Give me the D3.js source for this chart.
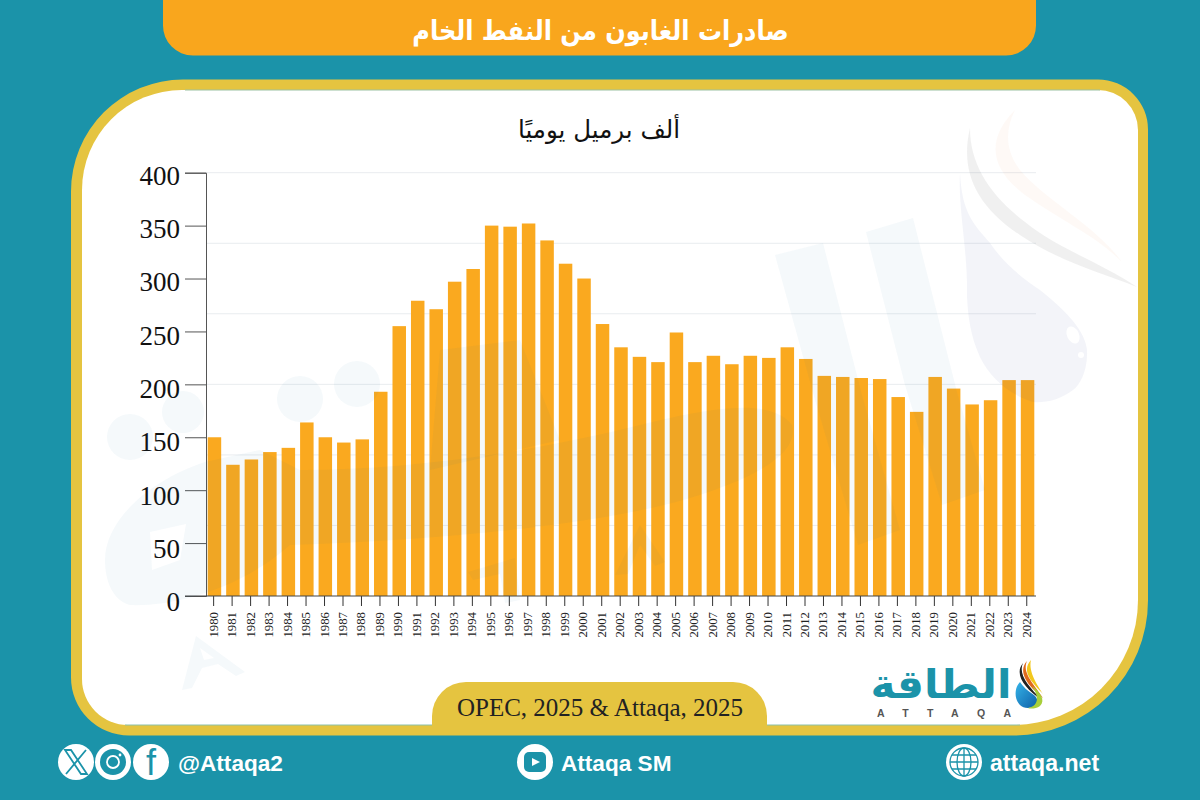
<!DOCTYPE html>
<html lang="ar">
<head>
<meta charset="utf-8">
<title>صادرات الغابون من النفط الخام</title>
<script src="https://cdn.jsdelivr.net/npm/d3@7/dist/d3.min.js"></script>
<style>
  html, body { margin: 0; padding: 0; background: #1b93a9; }
  svg { display: block; }
  .serif { font-family: "Liberation Serif", serif; }
  .arabic { font-family: "DejaVu Sans", sans-serif; direction: rtl; }
  .social { font-family: "Liberation Sans", Arial, sans-serif; font-weight: bold; fill: #fff; }
</style>
</head>
<body>
<svg id="chart" width="1200" height="800"></svg>
<script>
// بيانات الرسم
const years = ["1980","1981","1982","1983","1984","1985","1986","1987","1988","1989",
  "1990","1991","1992","1993","1994","1995","1996","1997","1998","1999",
  "2000","2001","2002","2003","2004","2005","2006","2007","2008","2009",
  "2010","2011","2012","2013","2014","2015","2016","2017","2018","2019",
  "2020","2021","2022","2023","2024"];
const exportsKbd = [150,124,129,136,140,164,150,145,148,193,
  255,279,271,297,309,350,349,352,336,314,
  300,257,235,226,221,249,221,227,219,227,
  225,235,224,208,207,206,205,188,174,207,
  196,181,185,204,204];
const yTicks = [0,50,100,150,200,250,300,350,400];
const gridValues = [66.7,133.3,200,266.7,333.3,400];

const titleText = "صادرات الغابون من النفط الخام";
const unitText = "ألف برميل يوميًا";
const sourceText = "OPEC, 2025 & Attaqa, 2025";

const TEAL = "#1b93a9", GOLD = "#e5c440", ORANGE = "#f9a61d", BAR = "#faa91f";

const svg = d3.select("#chart");

// rounded rect with a separate radius on each corner
function roundedPath(x0, y0, x1, y1, tl, tr, br, bl) {
  return `M${x0 + tl},${y0}H${x1 - tr}A${tr},${tr} 0 0 1 ${x1},${y0 + tr}` +
    `V${y1 - br}A${br},${br} 0 0 1 ${x1 - br},${y1}H${x0 + bl}` +
    `A${bl},${bl} 0 0 1 ${x0},${y1 - bl}V${y0 + tl}A${tl},${tl} 0 0 1 ${x0 + tl},${y0}Z`;
}

// frame
svg.append("rect").attr("width", 1200).attr("height", 800).attr("fill", TEAL);
svg.append("path").attr("d", roundedPath(71, 79.5, 1148, 735.5, 112, 50, 135, 58)).attr("fill", GOLD);
svg.append("path").attr("d", roundedPath(82, 90, 1138, 725, 100, 40, 125, 46)).attr("fill", "#fff");
svg.append("line").attr("x1", 185).attr("x2", 1100).attr("y1", 90).attr("y2", 90).attr("stroke", "#9cc2a2");
svg.append("line").attr("x1", 125).attr("x2", 1020).attr("y1", 725).attr("y2", 725).attr("stroke", "#8cc0a8");

// header
svg.append("path").attr("d", "M163,0H1036V25A30,30 0 0 1 1006,55.5H193A30,30 0 0 1 163,25Z").attr("fill", ORANGE);
svg.append("text").attr("class", "arabic")
  .attr("transform", "translate(600.5,40) scale(0.89,1)")
  .attr("text-anchor", "middle").attr("font-size", 27).attr("font-weight", "bold")
  .attr("fill", "#fff").text(titleText);

// chart scales
const x = d3.scaleBand().domain(years).range([205.2, 1036.8]).paddingInner(0.27).paddingOuter(0.135);
const y = d3.scaleLinear().domain([0, 400]).range([596, 172.7]);
// the labels drift slightly from their ticks in the original
const labelY = d3.scaleLinear().domain([0, 400]).range([610.7, 184]);

svg.append("text").attr("class", "arabic").attr("x", 599).attr("y", 138)
  .attr("text-anchor", "middle").attr("font-size", 24.5).attr("fill", "#111").text(unitText);

// grid
svg.append("g").selectAll("line").data(gridValues).join("line")
  .attr("x1", 206).attr("x2", 1036)
  .attr("y1", d => y(d)).attr("y2", d => y(d))
  .attr("stroke", "#e9ecef").attr("stroke-width", 1);

// bars
svg.append("g").selectAll("rect").data(years).join("rect")
  .attr("x", d => x(d))
  .attr("width", x.bandwidth())
  .attr("y", (d, i) => y(exportsKbd[i]))
  .attr("height", (d, i) => y(0) - y(exportsKbd[i]))
  .attr("fill", BAR);

// y axis
const yAxis = svg.append("g").attr("transform", "translate(206,0)")
  .call(d3.axisLeft(y).tickValues(yTicks).tickSize(21).tickPadding(5));
yAxis.selectAll("path,line").attr("stroke", "#555").attr("stroke-width", 1);
yAxis.selectAll("text")
  .attr("class", "serif").attr("font-size", 27).attr("fill", "#111")
  .attr("dy", 0).attr("y", d => labelY(d) - y(d));

// x axis
const xAxis = svg.append("g").attr("transform", "translate(-0.8,596)")
  .call(d3.axisBottom(x).tickSize(10).tickSizeOuter(0));
xAxis.select("path").remove();
xAxis.selectAll("line").attr("stroke", "#333").attr("stroke-width", 1);
xAxis.selectAll("text")
  .attr("class", "serif").attr("font-size", 12.8).attr("fill", "#222")
  .attr("transform", "rotate(-90)")
  .attr("text-anchor", "end").attr("dy", 0)
  .attr("x", -16).attr("y", 4);
svg.append("line").attr("x1", 185).attr("x2", 1036).attr("y1", 596).attr("y2", 596).attr("stroke", "#444");

// watermark, sits over the bars like in the original
const wm = svg.append("g").attr("fill", "#1b6fa8").attr("fill-opacity", 0.045).style("pointer-events", "none");
[[130, 437, 23], [183, 412, 21], [300, 399, 23], [357, 384, 23]].forEach(c => {
  wm.append("circle").attr("cx", c[0]).attr("cy", c[1]).attr("r", c[2]);
});
[
  // slanted strokes of the logo
  "M775,255L823,243L862,395L900,530L858,545L815,400Z",
  "M866,232L913,218L957,392L985,490L942,505L905,385Z",
  // the big letter body on the left, with its white notch
  "M105,560C105,520 150,480 205,462L260,450L300,470L290,545C240,590 170,607 130,605C112,600 105,580 105,560ZM150,532L186,524L180,560L152,570Z",
  // the long sweep through the bars
  "M290,545L300,470C400,470 520,455 640,425C700,410 770,395 792,425C800,455 750,480 690,498C600,525 440,540 290,545Z",
  "M430,470L440,350L520,340L560,440Z",
  // dropped A letters
  "M182,690L196,636L245,672L236,676L218,664L202,668L192,688ZM204,660L214,658L200,648Z",
  "M615,575L640,525L665,562L655,566L640,545L628,574Z",
  "M468,572L515,558L520,600L505,603L500,574L473,580Z"
].forEach(d => wm.append("path").attr("d", d).attr("fill-rule", "evenodd"));

// watermark drop, top right
const wmDrop = svg.append("g").style("pointer-events", "none");
wmDrop.append("path")
  .attr("d", "M960,173C962,215 975,225 990,243C1005,265 1025,280 1040,290C1065,310 1085,330 1087,350C1088,370 1080,385 1073,390C1060,400 1045,403 1033,402C1010,395 990,378 980,357C970,335 968,315 967,297C968,250 958,210 960,173Z")
  .attr("fill", "#3a4a9a").attr("fill-opacity", 0.06);
wmDrop.append("path")
  .attr("d", "M970,128C960,170 975,205 1020,235C1060,262 1100,272 1137,287C1100,262 1060,250 1025,222C990,195 970,165 970,128Z")
  .attr("fill", "#555").attr("fill-opacity", 0.09);
wmDrop.append("path")
  .attr("d", "M1015,110C990,135 985,165 1025,195C1060,220 1095,235 1122,262C1095,225 1045,200 1020,170C1005,150 1005,130 1015,110Z")
  .attr("fill", "#f08a50").attr("fill-opacity", 0.05);
wmDrop.append("ellipse").attr("cx", 1073).attr("cy", 335).attr("rx", 6).attr("ry", 9).attr("transform", "rotate(-25,1073,335)").attr("fill", "#fff");
wmDrop.append("circle").attr("cx", 1081).attr("cy", 355).attr("r", 3).attr("fill", "#fff");

// source tab
svg.append("path").attr("d", "M432,726V716A34,34 0 0 1 466,682H733A34,34 0 0 1 767,716V726Z").attr("fill", GOLD);
svg.append("text").attr("class", "serif").attr("x", 600).attr("y", 716)
  .attr("text-anchor", "middle").attr("font-size", 25).attr("fill", "#222").text(sourceText);

// logo
const logo = svg.append("g");
logo.append("text").attr("class", "arabic")
  .attr("transform", "translate(941,698) scale(1.06,1)")
  .attr("text-anchor", "middle").attr("font-size", 40).attr("font-weight", "bold")
  .attr("fill", "#1b93a9").text("الطاقة");
logo.append("text").attr("class", "social").attr("x", 877).attr("y", 717)
  .attr("font-size", 10.5).style("fill", "#555").attr("font-weight", "normal")
  .attr("textLength", 134).text("ATTAQA");
const dropGrad = svg.append("defs").append("linearGradient").attr("id", "dropGrad")
  .attr("x1", 0).attr("y1", 0).attr("x2", 1).attr("y2", 1);
dropGrad.append("stop").attr("offset", 0).attr("stop-color", "#35b4e8");
dropGrad.append("stop").attr("offset", 1).attr("stop-color", "#0d5fa8");
logo.append("path").attr("d", "M1031,660C1020,672 1034,684 1043,694C1038,686 1028,672 1031,660Z").attr("fill", "#f2c81e");
logo.append("path").attr("d", "M1027,661C1017,672 1028,686 1043,698C1032,682 1022,672 1027,661Z").attr("fill", "#e06a1c");
logo.append("path").attr("d", "M1023,663C1014,674 1024,688 1042,700C1028,686 1018,674 1023,663Z").attr("fill", "#222");
logo.append("path").attr("d", "M1020,682C1012,690 1015,708 1028,708C1038,708 1040,700 1034,695C1028,691 1023,687 1020,682Z").attr("fill", "url(#dropGrad)");
logo.append("path").attr("d", "M1032,686C1040,692 1046,700 1040,706C1036,709 1030,709 1028,708C1038,706 1040,698 1032,686Z").attr("fill", "#a8cf3a");

// footer icons
const icons = svg.append("g").attr("fill", "#fff");
[[76, 762], [113, 762], [151, 762], [535, 762], [964, 762]].forEach(c => {
  icons.append("circle").attr("cx", c[0]).attr("cy", c[1]).attr("r", 18);
});
// X
icons.append("path").attr("d", "M65,750H71L87,774H81ZM86,750L66,774").attr("stroke", TEAL).attr("stroke-width", 1.8).attr("fill", "none");
// instagram
icons.append("circle").attr("cx", 113).attr("cy", 762).attr("r", 13).attr("fill", TEAL);
icons.append("circle").attr("cx", 113).attr("cy", 762).attr("r", 6).attr("fill", "none").attr("stroke", "#fff").attr("stroke-width", 1.8);
icons.append("circle").attr("cx", 120).attr("cy", 755).attr("r", 1.4);
// f
svg.append("text").attr("x", 151).attr("y", 775).attr("text-anchor", "middle")
  .attr("font-family", "Liberation Sans").attr("font-size", 36).attr("fill", TEAL).text("f");
// youtube
icons.append("rect").attr("x", 524).attr("y", 752).attr("width", 22).attr("height", 20).attr("rx", 5).attr("fill", TEAL);
icons.append("path").attr("d", "M532,758L540,762L532,766Z");
// globe
const globe = svg.append("g").attr("fill", "none").attr("stroke", TEAL).attr("stroke-width", 1.3);
globe.append("circle").attr("cx", 964).attr("cy", 762).attr("r", 14);
globe.append("ellipse").attr("cx", 964).attr("cy", 762).attr("rx", 7).attr("ry", 14);
globe.append("path").attr("d", "M964,748V776M950,762H978M952,755H976M952,769H976");

svg.append("text").attr("class", "social").attr("x", 178).attr("y", 771).attr("font-size", 22.6).text("@Attaqa2");
svg.append("text").attr("class", "social").attr("x", 561).attr("y", 771).attr("font-size", 22.6).text("Attaqa SM");
svg.append("text").attr("class", "social").attr("x", 990).attr("y", 771).attr("font-size", 23.1).text("attaqa.net");
</script>
</body>
</html>
